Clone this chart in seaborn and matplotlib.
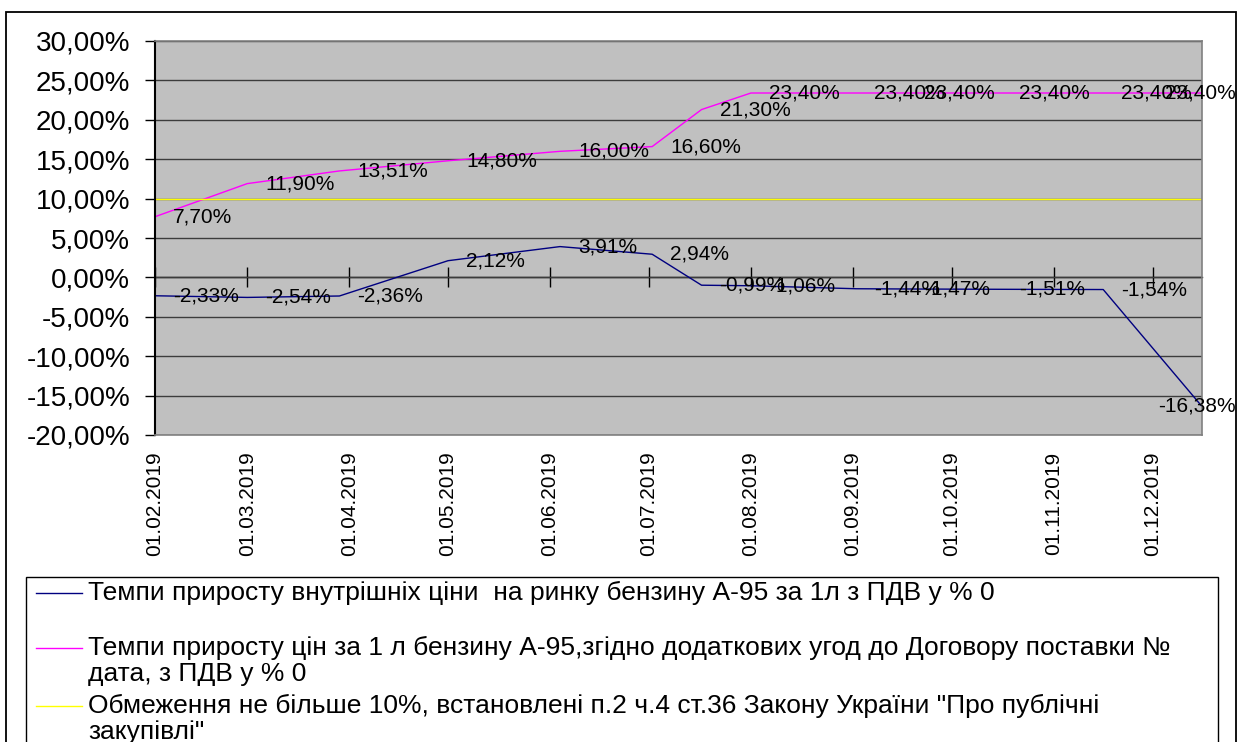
import matplotlib
matplotlib.use('Agg')
import matplotlib.pyplot as plt
import matplotlib.dates as mdates
from matplotlib.lines import Line2D
from matplotlib.patches import Rectangle
from matplotlib.ticker import FuncFormatter, MultipleLocator
import pandas as pd
import seaborn as sns

# data (values in %)
dates = ['01.02.2019', '01.03.2019', '29.03.2019', '01.05.2019', '04.06.2019', '02.07.2019',
         '17.07.2019', '01.08.2019', '02.09.2019', '17.09.2019', '16.10.2019', '16.11.2019',
         '16.12.2019']
market_growth = [-2.33, -2.54, -2.36, 2.12, 3.91, 2.94, -0.99, -1.06, -1.44, -1.47, -1.51, -1.54, -16.38]
contract_growth = [7.70, 11.90, 13.51, 14.80, 16.00, 16.60, 21.30, 23.40, 23.40, 23.40, 23.40, 23.40, 23.40]
limit_10 = [10.0] * len(dates)

series_names = [
    'Темпи приросту внутрішніх ціни  на ринку бензину А-95 за 1л з ПДВ у % 0',
    'Темпи приросту цін за 1 л бензину А-95,згідно додаткових угод до Договору поставки №\nдата, з ПДВ у % 0',
    'Обмеження не більше 10%, встановлені п.2 ч.4 ст.36 Закону України "Про публічні\nзакупівлі"',
]
colors = ['#000080', '#ff00ff', '#ffff00']

W, H = 1240, 742


def fx(x):
    return x / W


def fy(y):
    return 1 - y / H


plt.rcParams['font.family'] = ['Liberation Sans', 'DejaVu Sans']

d = pd.to_datetime(dates, format='%d.%m.%Y')
df = pd.concat([
    pd.DataFrame({'date': d, 'value': vals, 'series': name})
    for name, vals in zip(series_names, [market_growth, contract_growth, limit_10])
])

fig = plt.figure(figsize=(W / 100, H / 100), dpi=100)
ax = fig.add_axes([fx(155), fy(435), fx(1202) - fx(155), fy(41) - fy(435)])
ax.set_facecolor('#c0c0c0')
ax.set_axisbelow(True)

sns.lineplot(data=df, x='date', y='value', hue='series', hue_order=series_names,
             palette=colors, linewidth=1, legend=False, ax=ax)

ax.set_xlim(d[0], d[-1])
ax.set_ylim(-20, 30)
ax.yaxis.set_major_locator(MultipleLocator(5))
ax.yaxis.set_major_formatter(FuncFormatter(lambda v, p: f'{v:.2f}%'.replace('.', ',')))
ax.yaxis.grid(True, color='#3c3c3c', linewidth=1)
ax.set_xlabel('')
ax.set_ylabel('')

months = mdates.MonthLocator(bymonthday=1)
ax.xaxis.set_major_locator(months)
ax.xaxis.set_major_formatter(mdates.DateFormatter('%d.%m.%Y'))
ax.tick_params(axis='x', length=0, pad=12, labelrotation=90, labelsize=15)
ax.tick_params(axis='y', direction='out', length=7, width=1, pad=11, labelsize=20)

for s in ['top', 'right', 'bottom']:
    ax.spines[s].set_color('#808080')
    ax.spines[s].set_linewidth(1.2)
ax.spines['left'].set_color('black')
ax.spines['left'].set_linewidth(1.5)

# category axis crosses at 0 with cross ticks
zero_axis = ax.secondary_xaxis(0.4)
zero_axis.xaxis.set_major_locator(mdates.MonthLocator(bymonthday=1))
zero_axis.tick_params(direction='inout', length=14, width=1, labelbottom=False)
zero_axis.spines['bottom'].set_color('black')
zero_axis.spines['bottom'].set_linewidth(1)

# data labels (the last one is pushed back inside the chart, as Excel does)
for vals in [market_growth, contract_growth]:
    for i, (x, v) in enumerate(zip(d, vals)):
        txt = f'{v:.2f}%'.replace('.', ',')
        if i == len(vals) - 1:
            ax.annotate(txt, (x, v), xytext=(24, 0), textcoords='offset points',
                        ha='right', va='center', fontsize=15, annotation_clip=False)
        else:
            ax.annotate(txt, (x, v), xytext=(13, 0), textcoords='offset points',
                        ha='left', va='center', fontsize=15, annotation_clip=False)

# chart border and legend box
fig.patches.append(Rectangle((fx(6), -0.1), fx(1236) - fx(6), fy(12) + 0.1, transform=fig.transFigure,
                             fill=False, edgecolor='black', linewidth=1.3, clip_on=False))
fig.patches.append(Rectangle((fx(26), -0.1), fx(1218) - fx(26), fy(577) + 0.1, transform=fig.transFigure,
                             fill=False, edgecolor='black', linewidth=1, clip_on=False))

rows = [593, 648, 706]
for name, c, y in zip(series_names, colors, rows):
    fig.lines.append(Line2D([fx(36), fx(82)], [fy(y), fy(y)], transform=fig.transFigure,
                            color=c, linewidth=1))
    for k, line in enumerate(name.split('\n')):
        fig.text(fx(88), fy(y + k * 26), line, ha='left', va='center', fontsize=19)

fig.savefig('out.png', dpi=100)
